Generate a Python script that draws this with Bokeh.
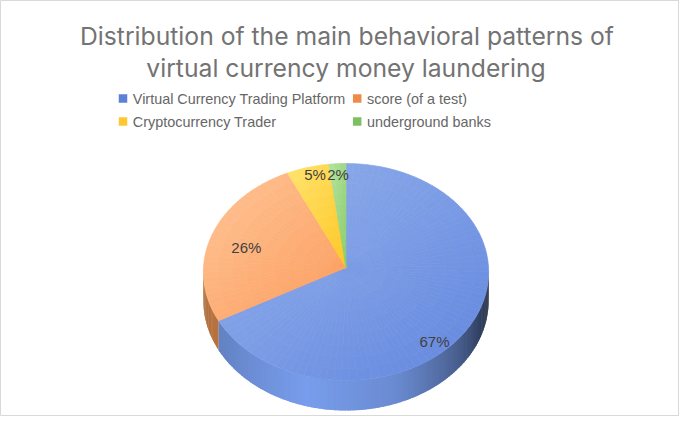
import numpy as np
from bokeh.plotting import figure
from bokeh.models import Range1d
from bokeh.core.properties import value
from bokeh.embed import file_html
from bokeh.resources import INLINE

# ---- data ----
title_lines = ["Distribution of the main behavioral patterns of",
               "virtual currency money laundering"]
categories = ["Virtual Currency Trading Platform", "score (of a test)",
              "Cryptocurrency Trader", "underground banks"]
values = [67, 26, 5, 2]

# ---- styles ----
grad_light = [(148, 177, 236), (255, 198, 152), (255, 228, 112), (182, 228, 160)]
grad_dark = [(98, 134, 222), (251, 154, 90), (254, 198, 36), (138, 204, 108)]
side_peak = [(120, 157, 236), (222, 140, 76), (230, 185, 40), (130, 180, 100)]
legend_colors = ["#5b80d6", "#f08a4b", "#fdc830", "#7ec061"]
FONT = "Liberation Sans"
TITLE_FONT = "Inter"

# geometry (screen pixels)
CX, CY, RX, RY, K, D = 345.5, 267.0, 142.5, 108.3, 0.0415, 28.8


def proj(theta_deg, f=1.0, h=0.0):
    t = np.radians(np.asarray(theta_deg, dtype=float))
    f = np.asarray(f, dtype=float)
    s = 1.0 / (1.0 + K * f * np.cos(t))
    x = CX + RX * f * np.sin(t) * s
    y = CY - RY * f * np.cos(t) * s + D * h * s
    return x, y


def shade(theta):
    kt = [90, 96, 110, 130, 160, 195, 235, 270]
    kb = [0.12, 0.22, 0.38, 0.6, 0.88, 1.0, 0.84, 0.76]
    return float(np.interp(theta, kt, kb))


def hexc(rgb):
    return "#%02x%02x%02x" % tuple(int(max(0, min(255, round(c)))) for c in rgb)


p = figure(width=679, height=416, x_range=Range1d(0, 679), y_range=Range1d(416, 0),
           output_backend="svg", toolbar_location=None, min_border=0,
           x_axis_location=None, y_axis_location=None)
p.grid.visible = False
p.outline_line_color = "#d9d9d9"
p.background_fill_color = "white"

total = float(sum(values))
bounds = np.concatenate([[0.0], np.cumsum(values) / total * 360.0])

# side strips (front half, theta 90..270); each strip overlaps the next a little
grid = np.linspace(90, 270, 181)
grid = np.unique(np.concatenate([grid, [b for b in bounds if 90 < b < 270]]))
sx, sy, sc = [], [], []
for k_, (t0, t1) in enumerate(zip(grid[:-1], grid[1:])):
    mid = 0.5 * (t0 + t1)
    idx = int(np.searchsorted(bounds, mid) - 1)
    b = shade(mid)
    col = hexc([c * b for c in side_peak[idx]])
    te = min(t1 + 0.6, bounds[idx + 1], 270.0) if t1 < bounds[idx + 1] else t1
    xa, ya = proj([t0, te], 1.0, 0.0)
    xb, yb = proj([te, t0], 1.0, 1.0)
    sx.append(list(xa) + list(xb))
    sy.append(list(ya) + list(yb))
    sc.append(col)
p.patches(sx, sy, fill_color=sc, line_color=None)

# top slices, drawn as small cells to give each slice its diagonal gradient
cx_, cy_, cc_ = [], [], []
rings = np.linspace(0, 1, 11)
for i, (a0, a1) in enumerate(zip(bounds[:-1], bounds[1:])):
    n_ang = max(2, int(np.ceil((a1 - a0) / 3.0)))
    angs = np.linspace(a0, a1, n_ang + 1)
    ox, oy = proj(angs)
    bx = np.concatenate([[CX], ox])
    by = np.concatenate([[CY], oy])
    x0, x1, y0, y1 = bx.min(), bx.max(), by.min(), by.max()
    lo, hi = np.array(grad_light), np.array(grad_dark)
    for j in range(n_ang):
        for r in range(len(rings) - 1):
            xo, yo = proj(angs[j:j + 2], rings[r + 1])
            xi, yi = proj(angs[j:j + 2][::-1], rings[r])
            xs = list(xo) + list(xi)
            ys = list(yo) + list(yi)
            mx, my = np.mean(xs), np.mean(ys)
            u = 0.5 * ((mx - x0) / (x1 - x0) + (my - y0) / (y1 - y0))
            col = hexc(lo[i] + (hi[i] - lo[i]) * u)
            cx_.append(xs)
            cy_.append(ys)
            cc_.append(col)
p.patches(cx_, cy_, fill_color=cc_, line_color=cc_, line_width=0.7)

# percentage labels
mids = 0.5 * (bounds[:-1] + bounds[1:])
lx, ly = proj(mids, 0.75)
label_dx = [-5, 1, -2, -1.5]
label_dy = [32, 5, -17, -14]
pct = ["%d%%" % v for v in values]
p.text(x=list(lx + np.array(label_dx)), y=list(ly + np.array(label_dy)), text=pct,
       text_font=value(FONT), text_font_size="15px", text_color="#404040",
       text_align="center", text_baseline="middle")

# title
p.text(x=[346.5, 345.5], y=[35.5, 67.5], text=title_lines, text_font=value(TITLE_FONT),
       text_font_size="24.7px", text_color="#737373", text_align="center",
       text_baseline="alphabetic")

# legend (2 columns, row-major)
col_sq = [122.5, 356.7]
row_y = [98.0, 121.0]
lgx = [col_sq[i % 2] for i in range(len(categories))]
lgy = [row_y[i // 2] for i in range(len(categories))]
p.rect(x=lgx, y=lgy, width=8.5, height=8.5, fill_color=legend_colors, line_color=None)
p.text(x=[v + 9.8 for v in lgx], y=lgy, text=categories, text_font=value(FONT),
       text_font_size="14.4px", text_color="#666666", text_align="left",
       text_baseline="middle")

open("out.html", "w").write(file_html(p, INLINE))
